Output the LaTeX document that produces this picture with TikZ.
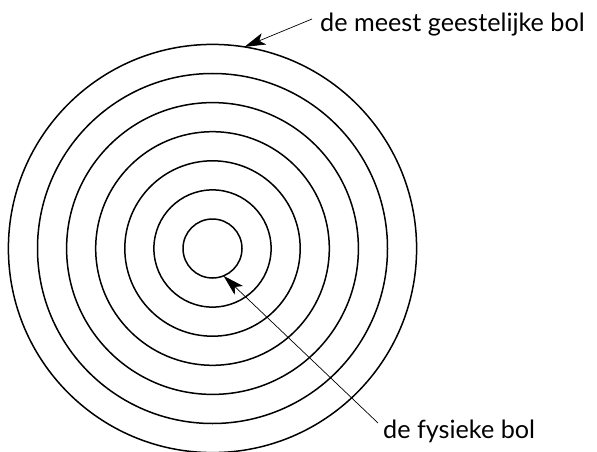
\documentclass[tikz,border=0pt]{standalone}
\usepackage{fontspec}
\setmainfont{Lato}
\usetikzlibrary{arrows.meta}
\begin{document}
\begin{tikzpicture}[x=1pt,y=-1pt,
  ring/.style={circle,draw,line width=1.5pt,inner sep=0pt,outer sep=0pt},
  pointer/.style={line width=0.7pt,-{Stealth[length=21pt,width=12pt,inset=5pt]}},
  lbl/.style={font=\fontsize{25.2}{28}\selectfont,inner sep=0pt,anchor=base west}]
\useasboundingbox (0,0) rectangle (597,452);
\foreach \i in {1,...,7}{
  \pgfmathsetmacro{\r}{29.5+29.1*(\i-1)}
  \node[ring,minimum size=2*\r pt] (c\i) at (212.5,248.5) {};
}
\node[lbl] (top) at (320,32) {de meest geestelijke bol};
\node[lbl] (bot) at (383,438) {de fysieke bol};
\coordinate (t1) at (312,19);
\coordinate (t2) at (378,423);
\draw[pointer] (t1) -- (c7.81.6);
\draw[pointer] (t2) -- (c1.-68);
\end{tikzpicture}
\end{document}
